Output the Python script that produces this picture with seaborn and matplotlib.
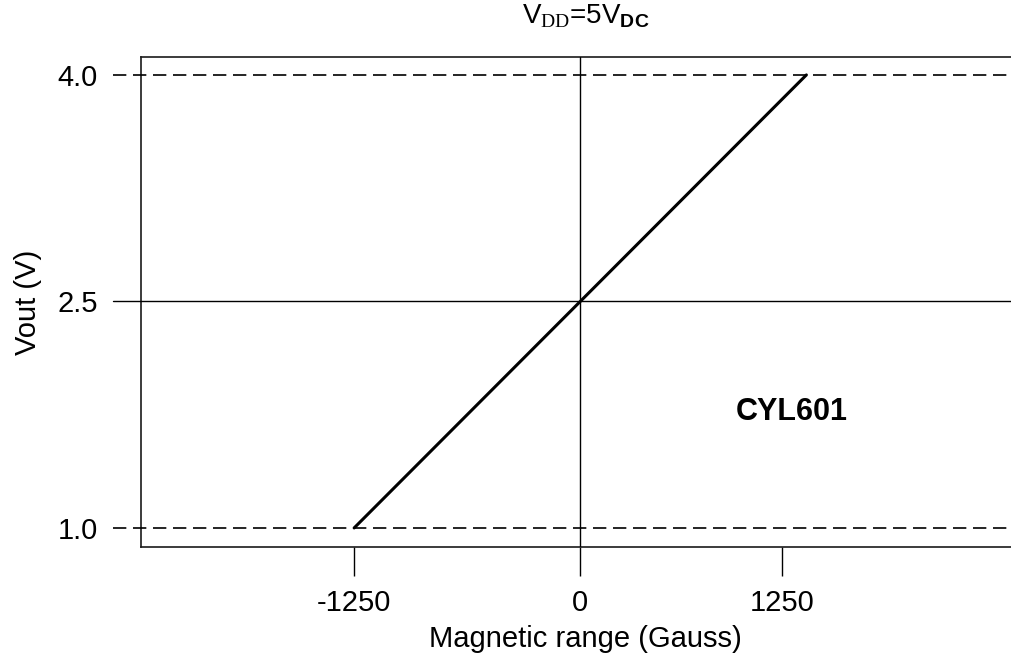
import matplotlib
matplotlib.use("Agg")
import matplotlib.pyplot as plt
import seaborn as sns
import pandas as pd

# ---- data ----
gauss = [-1250, 0, 1250]
vout = [1.0, 2.5, 4.0]
limit_levels = [1.0, 4.0]
mid_level = 2.5
xtick_pos = [-1250, 0, 1117]
xtick_labels = ["-1250", "0", "1250"]
ytick_vals = [1.0, 2.5, 4.0]
ytick_labels = ["1.0", "2.5", "4.0"]

sns.set_theme(style="white")
plt.rcParams["font.family"] = ["Liberation Sans", "DejaVu Sans"]
plt.rcParams["mathtext.fontset"] = "custom"
plt.rcParams["mathtext.rm"] = "Liberation Serif"
plt.rcParams["mathtext.bf"] = "Liberation Sans:bold"
plt.rcParams["mathtext.default"] = "regular"
plt.rcParams["text.color"] = "black"
plt.rcParams["axes.labelcolor"] = "black"
plt.rcParams["xtick.color"] = "black"
plt.rcParams["ytick.color"] = "black"

fig = plt.figure(figsize=(10.11, 6.56), dpi=100)
ax = fig.add_axes([0.1395, 0.1662, 0.88, 0.747])

df = pd.DataFrame({"Gauss": gauss, "Vout": vout})
sns.lineplot(data=df, x="Gauss", y="Vout", color="black", linewidth=2.2, ax=ax, zorder=5)

ax.set_xlim(-2428, 2490)
ax.set_ylim(0.874, 4.119)

# reference lines
for lv in limit_levels:
    ax.axhline(lv, xmin=-0.032, xmax=1.0, color="black", linewidth=1.2,
               linestyle=(0, (8, 4)), clip_on=False, zorder=3)
ax.axhline(mid_level, xmin=-0.032, xmax=1.0, color="black", linewidth=1.0,
           clip_on=False, zorder=3)
ax.axvline(0, color="black", linewidth=1.0, zorder=3)

for s in ax.spines.values():
    s.set_color("#1a1a1a")
    s.set_linewidth(1.2)

ax.set_xticks(xtick_pos)
ax.set_xticklabels(xtick_labels)
ax.set_yticks(ytick_vals)
ax.set_yticklabels(ytick_labels)
ax.tick_params(axis="x", length=21, width=1.0, color="black", pad=9,
               labelsize=21, bottom=True, direction="out")
ax.tick_params(axis="y", length=20, width=0, pad=11, labelsize=21, left=True)

ax.set_xlabel("Magnetic range (Gauss)", fontsize=21, labelpad=6)
ax.set_ylabel("Vout (V)", fontsize=21, labelpad=11)
ax.set_title("V$_{\\mathrm{DD}}$=5V$_{\\mathbf{DC}}$", fontsize=20, pad=24)

ax.text(1167, 1.77, "CYL601", fontsize=22, fontweight="bold",
        ha="center", va="center")

fig.savefig("out.png", dpi=100)
